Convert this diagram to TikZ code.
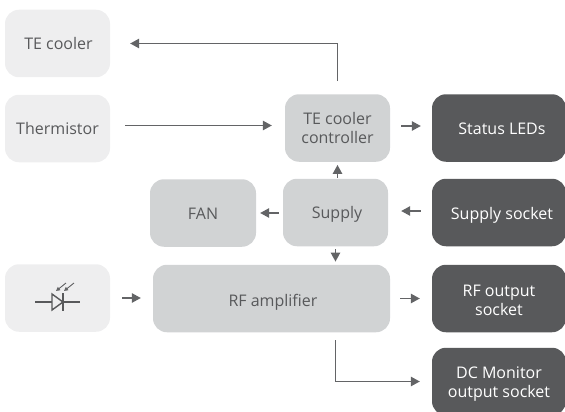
\documentclass[tikz,border=0pt]{standalone}
\usepackage{fontspec}
\setmainfont{Open Sans}
\usetikzlibrary{arrows.meta}
\definecolor{lightbox}{HTML}{EEEEEF}
\definecolor{midbox}{HTML}{D1D3D4}
\definecolor{darkbox}{HTML}{58595B}
\definecolor{boxtext}{HTML}{58595B}
\definecolor{wire}{HTML}{636466}
\newcommand{\oneline}[2][1pt]{\raisebox{-#1}[11pt][1pt]{#2}}
\tikzstyle{block}=[rounded corners=14pt,minimum height=67.5pt,inner sep=0pt,align=center,font=\fontsize{16}{19}\selectfont]
\tikzstyle{lightblock}=[block,fill=lightbox,text=boxtext,minimum width=105pt]
\tikzstyle{midblock}=[block,fill=midbox,text=boxtext,minimum width=105pt]
\tikzstyle{darkblock}=[block,fill=darkbox,text=white,minimum width=134pt]
\tikzstyle{wireline} = [draw=wire,line width=1.3pt,-{Triangle[length=9pt,width=9.5pt]}]
\tikzstyle{icon} = [draw=darkbox,line width=1.4pt]
\tikzstyle{iconarrow} = [draw=wire,line width=0.9pt,-{Triangle[length=4pt,width=4pt]}]

\begin{document}
\begin{tikzpicture}[x=1pt,y=-1pt]
    \useasboundingbox (0,0) rectangle (565,412);
    % First we draw the blocks
    \foreach \pos/\name/\label in {{(57.5,43.5)/tecooler/\hspace*{2pt}\oneline{TE cooler}}, {(57.5,128.5)/thermistor/\oneline{Thermistor}}, {(57.5,298)/photo/{}}}
        \node[lightblock] (\name) at \pos {\label};
    \foreach \pos/\name/\label in {{(337.5,128)/controller/{TE cooler\\controller}}, {(335.5,212.5)/supply/\oneline{\hspace*{3pt}Supply}}}
        \node[midblock] (\name) at \pos {\label};
    \node[midblock,minimum width=106pt] (fan) at (203,213) {\oneline{FAN}};
    \node[midblock,minimum width=237pt] (rfamp) at (271.5,298.5) {\hspace*{3pt}\oneline[2.5pt]{RF amplifier}};
    \foreach \pos/\name/\label in {{(499,128)/status/\hspace*{6pt}\oneline[1.5pt]{Status LEDs}}, {(499,212.5)/socket/\hspace*{6pt}\oneline[1.5pt]{Supply socket}}, {(499,298.5)/rfout/{\rule{0pt}{15.4pt}RF output\\socket}}, {(499,381.5)/dcout/{\rule{0pt}{17.4pt}DC Monitor\\output socket}}}
        \node[darkblock] (\name) at \pos {\label};

    % Connect the blocks
    \draw[wireline,shorten <=13pt,shorten >=20pt] (controller.north) |- (tecooler.east);
    \draw[wireline,shorten <=15pt,shorten >=13pt] ([yshift=3pt]thermistor.east) -- ([yshift=3pt]thermistor.east -| controller.west);
    \draw[wireline,shorten <=11pt,shorten >=11pt] ([yshift=2pt]controller.east) -- ([yshift=2pt]status.west);
    \draw[wireline,shorten <=1pt,shorten >=3pt] (controller.south |- supply.north) -- (controller.south);
    \draw[wireline,shorten <=11pt,shorten >=13pt] ([yshift=1.5pt]socket.west) -- ([yshift=1.5pt]supply.east);
    \draw[wireline,shorten <=4pt,shorten >=4pt] (supply.west |- fan.east) -- (fan.east);
    \draw[wireline,shorten <=3pt,shorten >=3pt] (supply.south) -- (supply.south |- rfamp.north);
    \draw[wireline,shorten <=12pt,shorten >=12pt] (photo.east) -- (photo.east -| rfamp.west);
    \draw[wireline,shorten <=10pt,shorten >=12pt] (rfamp.east) -- (rfout.west);
    \draw[wireline,shorten <=8pt,shorten >=12pt] (supply.south |- rfamp.south) |- (dcout.west);

    % Photodiode symbol
    \draw[icon] (35,302) -- (52,302) (63,302) -- (80,302);
    \draw[icon] (52,294) -- (52,310) -- (63,302) -- cycle;
    \draw[icon] (63,293) -- (63,311);
    \draw[iconarrow] (66,283) -- (56,291);
    \draw[iconarrow] (74,283) -- (64,291);
\end{tikzpicture}
\end{document}
